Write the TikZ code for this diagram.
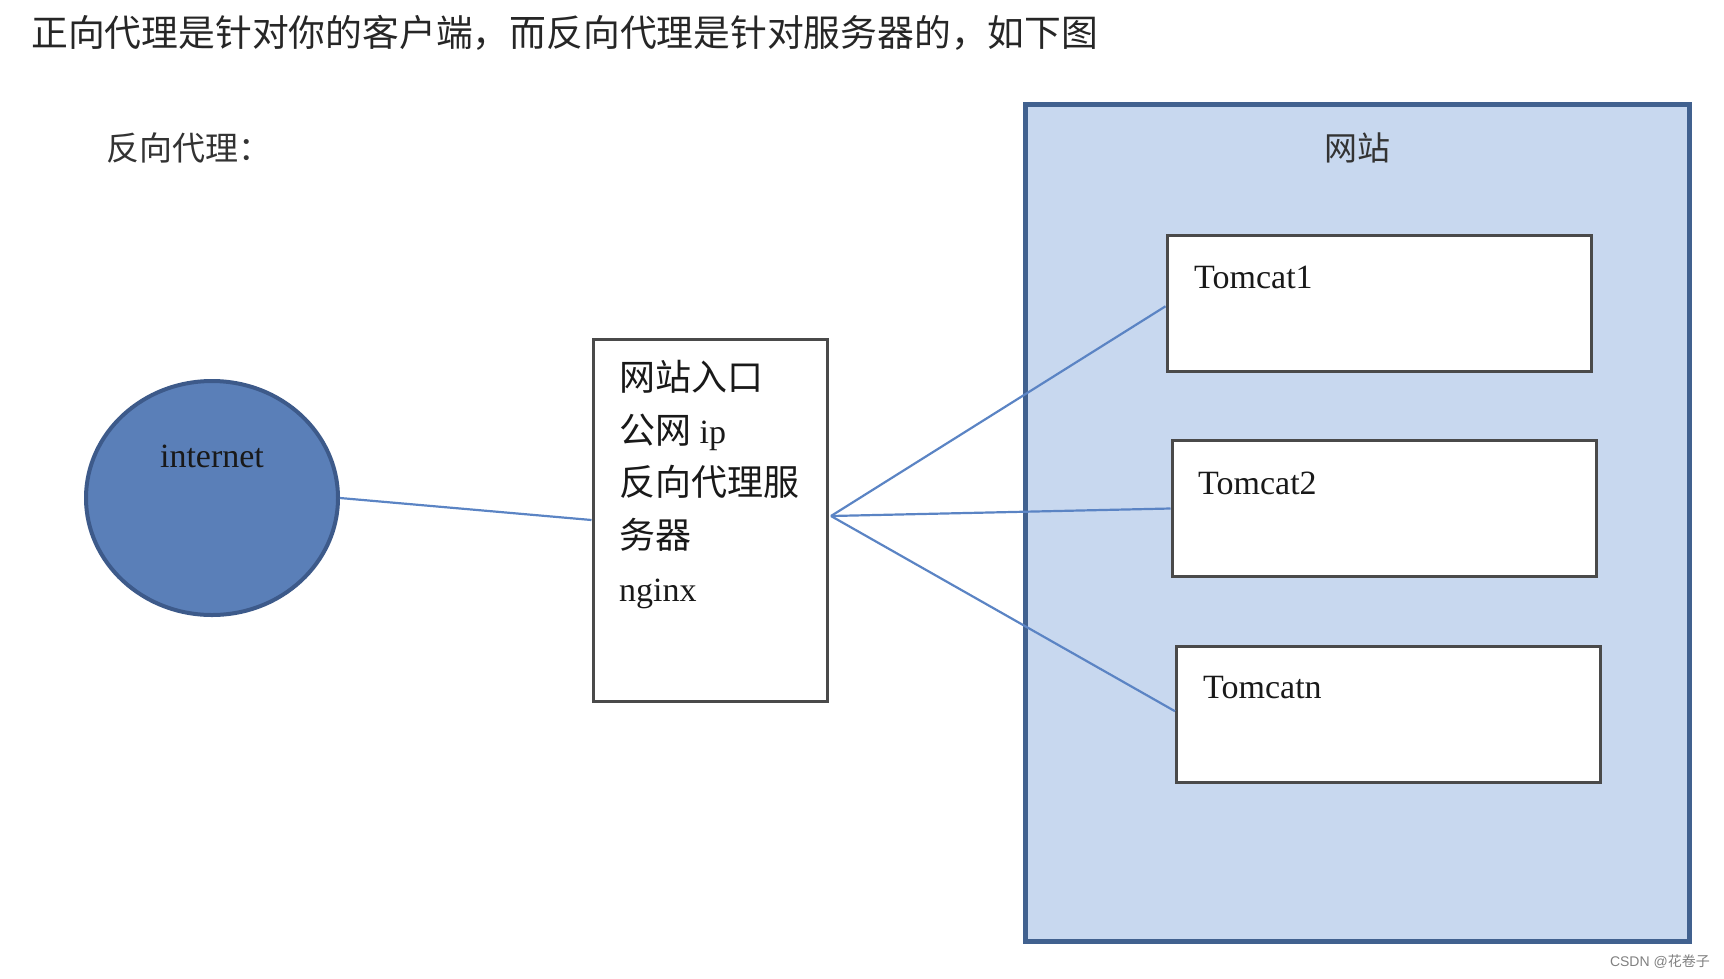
\documentclass[tikz,border=0pt]{standalone}
\usepackage{fontspec}
\setmainfont{Liberation Serif}
\newfontfamily\cjk{Noto Sans CJK SC}
\newfontfamily\sans{Liberation Sans}
\usetikzlibrary{calc,shapes.geometric}
\definecolor{linkblue}{HTML}{5B84C4}
\definecolor{siteblue}{HTML}{C8D8EF}
\definecolor{siteedge}{HTML}{41618F}
\definecolor{netfill}{HTML}{5A7FB8}
\definecolor{netedge}{HTML}{3D5A8A}
\definecolor{boxedge}{HTML}{4A4A4A}
\begin{document}
\begin{tikzpicture}[x=1pt,y=-1pt,
  link/.style={draw=linkblue,line width=2.2pt},
  tbox/.style={draw=boxedge,fill=white,line width=3pt,rectangle,inner sep=0pt,minimum width=424pt,minimum height=136pt},
  txt/.style={inner sep=0pt,font=\fontsize{34}{40}\selectfont,text=black!90},
  cjktxt/.style={inner sep=0pt,font=\cjk\fontsize{33}{36}\selectfont,text=black!80}]
\useasboundingbox (0,0) rectangle (1724,978);
% title
\node[anchor=west,inner sep=0pt,font=\cjk\fontsize{36.8}{40}\selectfont,text=black!85] (title) at (31,33) {正向代理是针对你的客户端，而反向代理是针对服务器的，如下图};
\node[anchor=west,cjktxt] (rp) at (106,148) {反向代理：};
% website
\node[draw=siteedge,fill=siteblue,line width=5pt,rectangle,inner sep=0pt,minimum width=664pt,minimum height=837pt] (site) at (1357,522.5) {};
\node[cjktxt] (sitelbl) at (1357,148) {网站};
% internet
\node[ellipse,draw=netedge,fill=netfill,line width=4pt,minimum width=252pt,minimum height=234pt,inner sep=0pt] (net) at (212,498) {};
\node[txt] (netlbl) at (212,456) {internet};
% middle box
\node[draw=boxedge,fill=white,line width=3pt,rectangle,inner sep=0pt,minimum width=234pt,minimum height=362pt] (mid) at (710,520) {};
\node[anchor=north west,inner sep=0pt,align=left,font=\fontsize{34}{52.7}\selectfont,text=black!90] (midtxt) at (619,360) {{\cjk\fontsize{36}{52.7}\selectfont 网站入口}\\{\cjk\fontsize{36}{52.7}\selectfont 公网} ip\\{\cjk\fontsize{36}{52.7}\selectfont 反向代理服}\\{\cjk\fontsize{36}{52.7}\selectfont 务器}\\nginx};
\coordinate (hub) at (831,516);
% tomcats
\node[tbox] (t1) at (1379,303.5) {};
\node[tbox] (t2) at (1384,508.5) {};
\node[tbox] (tn) at (1388.5,714) {};
\node[txt,anchor=west] (t1l) at (1194,277) {Tomcat1};
\node[txt,anchor=west] (t2l) at (1198,483) {Tomcat2};
\node[txt,anchor=west] (tnl) at (1203,688) {Tomcatn};
% links
\draw[link] (net.east) -- (mid.west);
\draw[link] (hub) -- ($(t1.north west)!0.52!(t1.south west)$);
\draw[link] (hub) -- (t2.west);
\draw[link] (hub) -- ($(tn.north west)!0.48!(tn.south west)$);
% watermark
\node[anchor=east,inner sep=0pt,font=\fontsize{14}{16}\selectfont,text=black!50] (wm) at (1710,962) {\sans CSDN @{\cjk 花卷子}};
\end{tikzpicture}
\end{document}
